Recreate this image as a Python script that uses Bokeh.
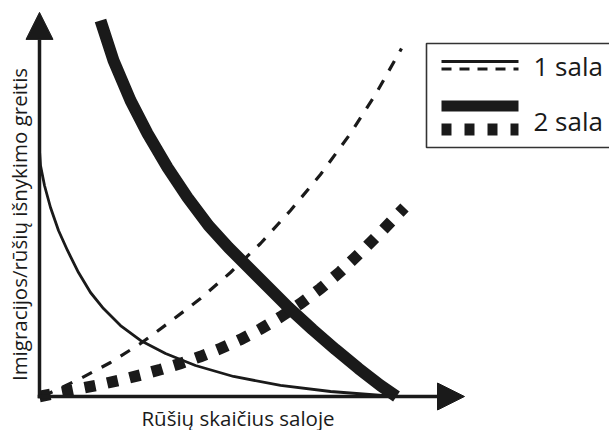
import numpy as np
from bokeh.plotting import figure
from bokeh.models import Range1d, Arrow, NormalHead, Label
from bokeh.embed import file_html
from bokeh.resources import INLINE

# ---- data (x: species count units, y: rate units) ----
# Island 1 immigration (thin solid)
imm1_x = [0, 0.25, 1.25, 2.75, 4.75, 7, 9.75, 12.75, 16, 20.25, 25.25, 31.5, 39, 48.5, 60.25, 72.75, 89]
imm1_y = [68.33, 64.17, 58.61, 52.5, 46.11, 40.56, 34.44, 28.89, 24.44, 19.72, 15.56, 11.94, 8.61, 5.56, 3.06, 1.39, 0]
# Island 2 immigration (thick solid)
imm2_x = [15.25, 18.5, 22.75, 27, 32, 37, 42.25, 47.25, 51.75, 56.75, 62.25, 68.25, 74, 79.75, 85.25, 89.25]
imm2_y = [104.44, 93.33, 82.22, 73.06, 63.61, 55.28, 47.5, 41.39, 36.39, 30.83, 24.72, 18.61, 13.06, 7.78, 3.06, 0]
# Island 1 extinction (thin dashed)
ext1_x = [0.75, 10.25, 17.75, 25.25, 32.75, 40.25, 47.75, 55.25, 62.75, 70.25, 77.75, 84, 90.5]
ext1_y = [0, 5, 9.44, 14.72, 20.83, 27.22, 34.44, 42.5, 51.67, 61.67, 73.06, 83.89, 96.67]
# Island 2 extinction (thick dotted)
ext2_x = [0, 5.25, 10.25, 15.25, 20.25, 25.25, 30.25, 35.25, 40.25, 45.25, 50.25, 55.25, 60.25,
          65.25, 70.25, 75.25, 80.25, 85.25, 91.25]
ext2_y = [0, 1.11, 2.22, 3.33, 4.58, 5.97, 7.5, 9.17, 11.11, 13.33, 15.83, 18.75, 22.08,
          25.83, 30, 34.72, 40, 45.56, 52.5]

x_label = "Rūšių skaičius saloje"
y_label = "Imigracijos/rūšių išnykimo greitis"
legend_labels = ["1 sala", "2 sala"]

# ---- layout ----
W, H = 609, 430
ox, oy = 39, 396          # origin in pixels
sx, sy = 4.0, 3.6         # pixels per data unit
x_end = 106.25
y_end = 106.7

INK = "#1a1a1a"
FONT = "Open Sans"

p = figure(width=W, height=H, output_backend="svg", toolbar_location=None,
           x_range=Range1d(-ox / sx, (W - ox) / sx),
           y_range=Range1d(-(H - oy) / sy, oy / sy),
           x_axis_location=None, y_axis_location=None,
           min_border=0, min_border_left=0, min_border_right=0,
           min_border_top=0, min_border_bottom=0)
p.grid.visible = False
p.outline_line_color = None
p.background_fill_color = "white"
p.border_fill_color = "white"

# curves
p.line(imm1_x, imm1_y, line_color=INK, line_width=2.8, line_join="round")
p.line(ext1_x, ext1_y, line_color=INK, line_width=3.2, line_dash="11 11",
       line_cap="butt", line_join="round")
p.line(ext2_x, ext2_y, line_color=INK, line_width=11.5, line_dash="11 12",
       line_cap="butt", line_join="miter")
p.line(imm2_x, imm2_y, line_color=INK, line_width=12, line_join="round", line_cap="butt")

# axes with arrow heads
p.add_layout(Arrow(end=NormalHead(size=27, fill_color=INK, line_color=INK, line_width=1),
                   x_start=0, y_start=-0.5, x_end=0, y_end=y_end,
                   line_color=INK, line_width=3.5))
p.add_layout(Arrow(end=NormalHead(size=27, fill_color=INK, line_color=INK, line_width=1),
                   x_start=-0.45, y_start=0, x_end=x_end, y_end=0,
                   line_color=INK, line_width=3.5))

# axis titles (anchored at the visual middle of the text)
p.add_layout(Label(x=(237.5 - ox) / sx, y=-(417 - oy) / sy, text=x_label,
                   text_font=FONT, text_font_size="20.5px", text_color=INK,
                   text_align="center", text_baseline="middle"))
p.add_layout(Label(x=(18 - ox) / sx, y=(oy - 224) / sy, text=y_label, angle=np.pi / 2,
                   text_font=FONT, text_font_size="20.5px", text_color=INK,
                   text_align="center", text_baseline="middle"))

# legend box
lx0, lx1 = (426 - ox) / sx, (720 - ox) / sx
ly0, ly1 = (oy - 147) / sy, (oy - 43) / sy
p.quad(left=[lx0], right=[lx1], bottom=[ly0], top=[ly1], fill_color="white",
       line_color="#333333", line_width=1.6)

gx0, gx1 = (441 - ox) / sx, (518 - ox) / sx
p.line([gx0, gx1], [(oy - 61) / sy] * 2, line_color=INK, line_width=3)
p.line([gx0, gx1], [(oy - 68.5) / sy] * 2, line_color=INK, line_width=3.2,
       line_dash="10 8", line_cap="butt")
p.line([gx0, gx1], [(oy - 105.5) / sy] * 2, line_color=INK, line_width=11, line_cap="butt")
p.line([gx0, gx1], [(oy - 129) / sy] * 2, line_color=INK, line_width=12,
       line_dash="10 13", line_cap="butt")

for lab, cy in zip(legend_labels, [65, 120]):
    p.add_layout(Label(x=(533 - ox) / sx, y=(oy - cy) / sy, text=lab,
                       text_font=FONT, text_font_size="26px", text_color=INK,
                       text_align="left", text_baseline="middle"))

open("out.html", "w").write(file_html(p, INLINE))
